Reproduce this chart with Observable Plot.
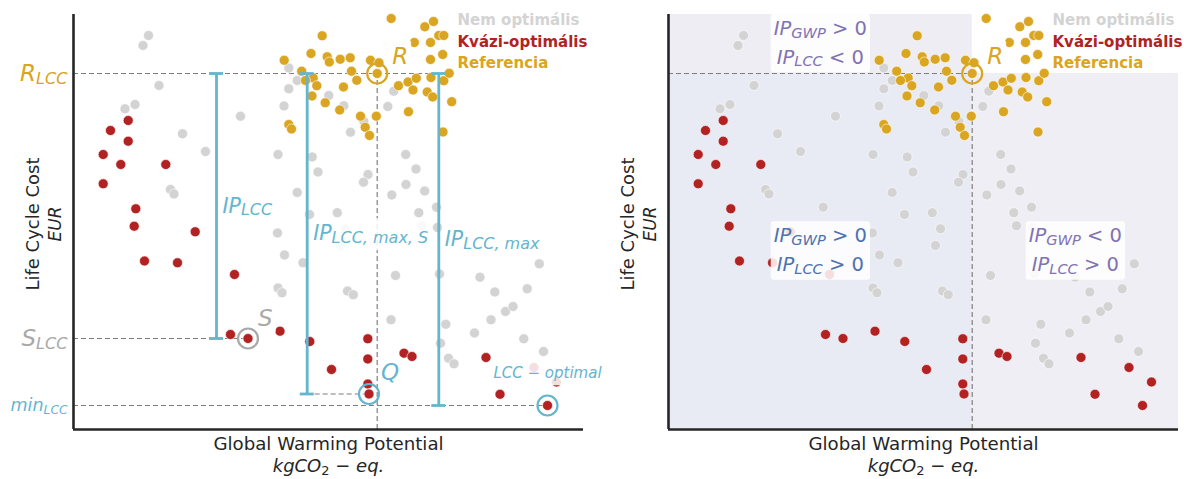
<!DOCTYPE html>
<html>
<head>
<meta charset="utf-8">
<script src="https://cdn.jsdelivr.net/npm/d3@7"></script>
<script src="https://cdn.jsdelivr.net/npm/@observablehq/plot@0.6"></script>
<style>
  body { margin: 0; background: #fff; font-family: "DejaVu Sans", sans-serif; }
  #row { display: flex; width: 1184px; height: 479px; }
  #row svg { flex: none; overflow: visible; }
</style>
</head>
<body>
<div id="row"></div>
<script>
// Solutions as [GWP, LCC] pairs, grouped by category
const nemOptimalis = [
  [7.5, 39.4], [6.95, 38.4], [8.55, 34.4], [6.15, 32.5], [5.15, 32.07], [16.7, 31.33],
  [10.9, 29.57], [13.2, 27.8], [9.7, 24.0], [10.05, 23.55], [15.47, 22.23], [20.45, 27.5],
  [22.37, 23.7], [20.4, 19.65], [21.05, 32.35], [21.53, 34.07], [21.53, 36.15], [22.37, 34.9],
  [25.53, 33.4], [27.03, 32.37], [27.7, 29.73], [32.03, 33.83], [31.43, 32.3], [29.03, 30.83],
  [23.87, 27.25], [24.45, 25.75], [29.45, 25.5], [29.0, 24.73], [33.22, 27.5], [34.25, 26.05],
  [33.25, 24.5], [31.83, 23.45], [35.12, 23.85], [26.38, 21.68], [34.53, 21.68], [36.3, 22.23],
  [23.6, 21.5], [27.2, 20.07], [34.8, 20.37], [36.4, 20.2], [26.7, 18.4], [21.1, 17.45],
  [22.95, 16.67], [32.2, 15.4], [36.6, 15.55], [40.65, 15.23], [42.13, 13.75], [45.37, 14.07],
  [46.58, 16.57], [20.45, 14.15], [20.85, 13.67], [27.4, 13.85], [27.98, 13.48], [31.75, 10.97],
  [37.23, 10.52], [36.7, 8.63], [37.5, 7.12], [38.05, 6.57], [40.1, 9.65], [41.75, 10.97],
  [43.2, 11.8], [43.95, 12.3], [45.03, 9.07], [47.0, 7.8]
];
const kvaziOptimalis = [
  [3.7, 29.9], [5.47, 30.9], [5.47, 28.83], [2.97, 27.5], [4.73, 26.5], [9.23, 26.5],
  [2.97, 24.57], [6.23, 22.07], [6.07, 20.33], [12.17, 19.77], [7.1, 16.85], [10.4, 16.67],
  [16.1, 15.5], [15.7, 9.5], [17.45, 9.1], [20.65, 9.83], [23.63, 8.8], [25.8, 6.0],
  [29.43, 9.07], [29.43, 7.05], [29.43, 4.55], [29.55, 3.55], [33.05, 7.63], [33.85, 7.3],
  [41.25, 7.2], [42.65, 3.52], [47.4, 2.4], [46.05, 6.2], [48.3, 4.75]
];
const referencia = [
  [31.77, 41.1], [35.13, 40.27], [36.0, 40.8], [24.87, 39.37], [36.53, 39.4], [37.03, 39.4],
  [34.08, 38.7], [35.7, 38.7], [23.75, 37.6], [21.07, 36.92], [25.37, 37.27], [25.58, 36.75],
  [26.67, 37.02], [27.67, 37.17], [29.7, 36.92], [30.55, 36.67], [30.37, 35.6], [35.7, 37.0],
  [36.92, 37.5], [22.82, 35.83], [23.97, 35.15], [24.33, 34.38], [23.85, 33.35], [27.8, 35.83],
  [28.33, 34.92], [27.0, 34.25], [25.17, 32.67], [26.62, 31.95], [28.7, 31.33], [29.17, 30.22],
  [29.6, 29.4], [30.28, 31.33], [32.5, 34.38], [33.45, 34.75], [34.28, 35.12], [33.95, 33.95],
  [35.37, 33.75], [35.92, 33.25], [35.75, 35.2], [37.03, 34.88], [37.57, 35.62], [37.82, 32.78],
  [33.5, 31.78], [21.53, 30.5], [21.8, 30.05], [36.95, 29.75], [23.2, 34.9]
];

// Named solutions: reference R, quasi-optimal S, Q and the LCC optimum
const pointR = [30.37, 35.6];
const pointS = [17.45, 9.1];
const pointQ = [29.55, 3.55];
const pointLccOptimal = [47.4, 2.4];

const legendLabels = ["Nem optimális", "Kvázi-optimális", "Referencia"];

// ---- styling -------------------------------------------------------------
const FONT = "DejaVu Sans";
const X_DOMAIN = [0, 51];
const Y_DOMAIN = [0, 41.5];
const C = {
  nem: "#d3d3d3", kvazi: "#b22222", ref: "#daa520", ip: "#64b5cd", s: "#a9a9a9",
  ink: "#262626", dash: "#7f7f7f", purple: "#8172b3", blue: "#4c72b0"
};
const dashed = {stroke: C.dash, strokeWidth: 1.2, strokeDasharray: "5,3"};
const bracketX = {ipLcc: 14.3, ipLccMaxS: 23.37, ipLccMax: 36.53};
const CAP = 0.7;

const px = d => d[0], py = d => d[1];

function scatter() {
  const o = fill => ({x: px, y: py, r: 5, fill, stroke: "white", strokeWidth: 0.6});
  return [
    Plot.dot(nemOptimalis, o(C.nem)),
    Plot.dot(kvaziOptimalis, o(C.kvazi)),
    Plot.dot(referencia, o(C.ref))
  ];
}

function legend() {
  const colors = [C.nem, C.kvazi, C.ref];
  return legendLabels.map((label, i) => Plot.text([label], {
    text: d => d, frameAnchor: "top-right", textAnchor: "start", lineAnchor: "middle",
    dx: -126, dy: 6 + i * 21.5,
    fontSize: 15, fontWeight: "bold", fill: colors[i], fontFamily: FONT
  }));
}

function axes() {
  const common = {text: d => d, fill: C.ink, fontFamily: FONT, lineAnchor: "middle", textAnchor: "middle"};
  return [
    Plot.ruleX([0], {stroke: C.ink, strokeWidth: 2.6}),
    Plot.ruleY([0], {stroke: C.ink, strokeWidth: 2.6}),
    Plot.text(["Global Warming Potential"], {...common, frameAnchor: "bottom", dy: 15, fontSize: 18.2}),
    Plot.text(["kgCO_{2}[ − ]eq."], {...common, frameAnchor: "bottom", dy: 37, fontSize: 18, fontStyle: "italic", ariaDescription: "math sub-0.72"}),
    Plot.text(["Life Cycle Cost"], {...common, frameAnchor: "left", rotate: -90, dx: -40, dy: 2, fontSize: 18}),
    Plot.text(["EUR"], {...common, frameAnchor: "left", rotate: -90, dx: -18, dy: 2, fontSize: 17, fontStyle: "italic"})
  ];
}

function pointLabel(point, text, color, size, dx, dy, anchor = "start") {
  return Plot.text([point], {
    x: px, y: py, text: () => text, dx, dy, textAnchor: anchor, lineAnchor: "middle",
    fontSize: size, fontStyle: "italic", fill: color, fontFamily: FONT, ariaDescription: "boxed"
  });
}

const baseOptions = {
  width: 592, height: 479, marginTop: 14, marginBottom: 50,
  x: {domain: X_DOMAIN, axis: null},
  y: {domain: Y_DOMAIN, axis: null},
  style: {background: "transparent", overflow: "visible", fontFamily: FONT}
};

// ---- left panel: improvement potentials -----------------------------------
const brackets = [
  {x: bracketX.ipLcc, lo: pointS[1], label: "IP_{LCC}"},
  {x: bracketX.ipLccMaxS, lo: pointQ[1], label: "IP_{LCC, max, S}"},
  {x: bracketX.ipLccMax, lo: pointLccOptimal[1], label: "IP_{LCC, max}"}
];

const yLabel = (point, text, color, size) => Plot.text([point], {
  x: 0, y: py, text: () => text, dx: -6, textAnchor: "end", lineAnchor: "middle",
  fontSize: size, fontStyle: "italic", fill: color, fontFamily: FONT, ariaDescription: "math sub-0.7"
});

const left = Plot.plot({
  ...baseOptions, marginLeft: 73, marginRight: 9,
  marks: [
    Plot.ruleY([pointR], {y: py, x1: 0, x2: bracketX.ipLccMax, ...dashed}),
    Plot.ruleX([pointR], {x: px, y1: 0, y2: py, ...dashed}),
    Plot.ruleY([pointS], {y: py, x1: 0, x2: px, ...dashed}),
    Plot.ruleY([pointQ], {y: py, x1: bracketX.ipLccMaxS, x2: px, ...dashed}),
    Plot.ruleY([pointLccOptimal], {y: py, x1: 0, x2: px, ...dashed}),
    ...scatter(),
    Plot.text(brackets, {
      x: "x", y: d => (d.lo + pointR[1]) / 2, text: "label", dx: 6, textAnchor: "start", lineAnchor: "middle",
      fontSize: 20.5, fontStyle: "italic", fill: C.ip, fontFamily: FONT, ariaDescription: "boxed sub-0.78"
    }),
    pointLabel(pointR, "R", C.ref, 23, 15, -17),
    pointLabel(pointS, "S", C.s, 23, 10, -20),
    pointLabel(pointQ, "Q", C.ip, 23, 12, -21),
    pointLabel(pointLccOptimal, "LCC[ − ]optimal", C.ip, 15, 0, -32, "middle"),
    Plot.ruleX(brackets, {x: "x", y1: "lo", y2: () => pointR[1], stroke: C.ip, strokeWidth: 2.8}),
    Plot.ruleY(brackets.flatMap(b => [{x: b.x, y: b.lo}, {x: b.x, y: pointR[1]}]), {
      y: "y", x1: d => d.x - CAP, x2: d => d.x + CAP, stroke: C.ip, strokeWidth: 2.8
    }),
    Plot.dot([pointR], {x: px, y: py, r: 10, fill: "none", stroke: C.ref, strokeWidth: 2.2}),
    Plot.dot([pointS], {x: px, y: py, r: 10, fill: "none", stroke: C.s, strokeWidth: 2.2}),
    Plot.dot([pointQ, pointLccOptimal], {x: px, y: py, r: 10, fill: "none", stroke: C.ip, strokeWidth: 2.2}),
    ...legend(),
    yLabel(pointR, "R_{LCC}", C.ref, 23),
    yLabel(pointS, "S_{LCC}", C.s, 23),
    yLabel(pointLccOptimal, "min_{LCC}", C.ip, 17.5),
    ...axes()
  ]
});

// ---- right panel: sign of the improvement potentials ----------------------
const quadrants = [
  {x1: X_DOMAIN[0], x2: pointR[0], y1: pointR[1], y2: Y_DOMAIN[1], fill: "#eeedf4", color: C.purple, label: "IP_{GWP}[ > 0]\nIP_{LCC}[ < 0]"},
  {x1: X_DOMAIN[0], x2: pointR[0], y1: Y_DOMAIN[0], y2: pointR[1], fill: "#e8ebf4", color: C.blue, label: "IP_{GWP}[ > 0]\nIP_{LCC}[ > 0]"},
  {x1: pointR[0], x2: X_DOMAIN[1], y1: Y_DOMAIN[0], y2: pointR[1], fill: "#efeef5", color: C.purple, label: "IP_{GWP}[ < 0]\nIP_{LCC}[ > 0]"}
];

const right = Plot.plot({
  ...baseOptions, marginLeft: 76, marginRight: 6,
  marks: [
    ...quadrants.map(q => Plot.rect([q], {x1: "x1", x2: "x2", y1: "y1", y2: "y2", fill: q.fill})),
    Plot.ruleY([pointR], {y: py, x1: 0, x2: px, ...dashed}),
    Plot.ruleX([pointR], {x: px, y1: 0, y2: py, ...dashed}),
    ...scatter(),
    ...quadrants.map(q => Plot.text([q], {
      x: d => (d.x1 + d.x2) / 2, y: d => (d.y1 + d.y2) / 2, text: "label", lineHeight: 1.47, dy: -4,
      lineAnchor: "middle", textAnchor: "middle",
      fontSize: 19.5, fontStyle: "italic", fill: q.color, fontFamily: FONT, ariaDescription: "boxed sub-0.75"
    })),
    pointLabel(pointR, "R", C.ref, 23, 15, -17),
    Plot.dot([pointR], {x: px, y: py, r: 10, fill: "none", stroke: C.ref, strokeWidth: 2.2}),
    ...legend(),
    ...axes()
  ]
});

const row = document.getElementById("row");
row.append(left, right);

// ---- math-style text: "_{...}" is a subscript, "[...]" is upright ---------
const NS = "http://www.w3.org/2000/svg";
function renderMath(svg) {
  svg.querySelectorAll("text").forEach(t => {
    const g = t.closest("g[aria-description]");
    const desc = g ? g.getAttribute("aria-description") : "";
    const mm = /sub-([\d.]+)/.exec(desc);
    const ratio = mm ? +mm[1] : 0.72;
    const leaves = t.querySelector("tspan") ? [...t.querySelectorAll("tspan")] : [t];
    leaves.forEach(el => {
      const s = el.textContent;
      if (!/_\{|\[/.test(s)) return;
      const fs = parseFloat(getComputedStyle(el).fontSize);
      const shift = 0.14 * fs;
      el.textContent = "";
      let pending = false;
      const add = (txt, attrs = {}) => {
        const sp = document.createElementNS(NS, "tspan");
        if (pending && attrs.dy === undefined) { attrs.dy = -shift; pending = false; }
        for (const [k, v] of Object.entries(attrs)) if (v != null) sp.setAttribute(k, v);
        sp.textContent = txt;
        el.appendChild(sp);
      };
      const re = /_\{([^}]*)\}|\[([^\]]*)\]/g;
      let last = 0, m;
      while ((m = re.exec(s))) {
        if (m.index > last) add(s.slice(last, m.index));
        if (m[1] != null) {
          add(m[1], {dy: pending ? 0 : shift, "font-size": (ratio * fs).toFixed(2), "font-style": /^\d+$/.test(m[1]) ? "normal" : null});
          pending = true;
        } else {
          add(m[2], {"font-style": "normal"});
        }
        last = re.lastIndex;
      }
      if (last < s.length) add(s.slice(last));
      // a trailing subscript: undo its shift on the following line, if any
      const next = el.nextElementSibling;
      if (pending && next && next.hasAttribute("dy")) {
        const d = next.getAttribute("dy");
        const v = d.endsWith("em") ? parseFloat(d) * fs : parseFloat(d);
        next.setAttribute("dy", v - shift);
      }
    });
  });
}

// White translucent boxes behind annotation labels
function addBoxes(svg) {
  svg.querySelectorAll('g[aria-description~="boxed"] text').forEach(t => {
    const b = t.getBBox();
    const pad = 3;
    const r = document.createElementNS(NS, "rect");
    r.setAttribute("x", b.x - pad);
    r.setAttribute("y", b.y - pad);
    r.setAttribute("width", b.width + 2 * pad);
    r.setAttribute("height", b.height + 2 * pad);
    r.setAttribute("rx", 3);
    r.setAttribute("fill", "white");
    r.setAttribute("fill-opacity", 0.85);
    r.setAttribute("stroke", "none");
    const tr = t.getAttribute("transform");
    if (tr) r.setAttribute("transform", tr);
    t.parentNode.insertBefore(r, t);
  });
}

[left, right].forEach(svg => { renderMath(svg); addBoxes(svg); });
</script>
</body>
</html>
